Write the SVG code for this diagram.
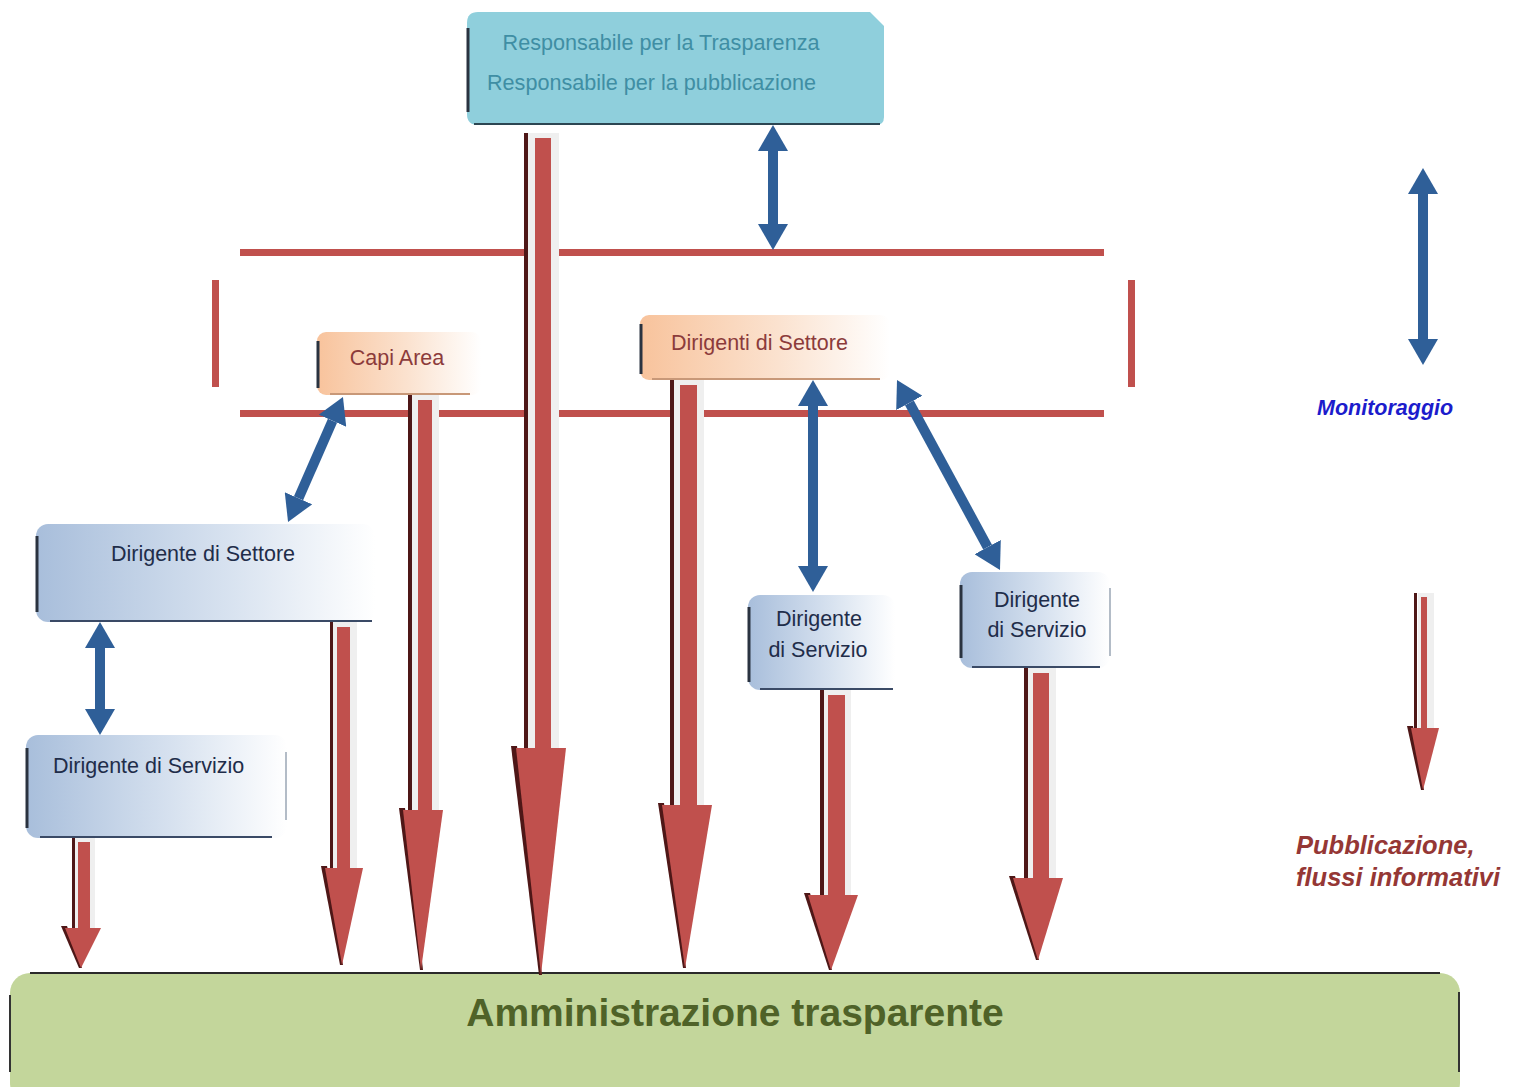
<svg xmlns="http://www.w3.org/2000/svg" width="1513" height="1087" viewBox="0 0 1513 1087">
<defs>
<style>
.txt{font-family:"Liberation Sans",Arial,sans-serif}
.blue{stroke:#2f5f98;stroke-width:10;fill:none;marker-start:url(#bh);marker-end:url(#bh)}
.frame{fill:#c0504d}
.halo{fill:#efefef}
.dark{fill:#4e1717}
.red{fill:#c0504d}
.edge{stroke:#2a3340;stroke-width:3;fill:none}
</style>
<marker id="bh" viewBox="0 -15 26 30" refX="0" refY="0" markerWidth="26" markerHeight="30" markerUnits="userSpaceOnUse" orient="auto-start-reverse">
<path d="M0,-15 L26,0 L0,15 Z" fill="#2f5f98"/>
</marker>
<linearGradient id="gOr" x1="0" y1="0" x2="1" y2="0">
<stop offset="0" stop-color="#f8c39c"/>
<stop offset="0.55" stop-color="#fbe2cf"/>
<stop offset="1" stop-color="#ffffff"/>
</linearGradient>
<linearGradient id="gBl" x1="0" y1="0" x2="1" y2="0">
<stop offset="0" stop-color="#a8bedb"/>
<stop offset="0.55" stop-color="#d6e1ef"/>
<stop offset="1" stop-color="#ffffff"/>
</linearGradient>
</defs>
<rect width="1513" height="1087" fill="#ffffff"/>

<!-- frame of red lines -->
<g id="frame">
<rect class="frame" x="240" y="249" width="864" height="7"/>
<rect class="frame" x="240" y="410" width="864" height="7"/>
<rect class="frame" x="212" y="280" width="7" height="107"/>
<rect class="frame" x="1128" y="280" width="7" height="107"/>
</g>

<!-- top node -->
<g id="node-responsabile">
<path d="M478,12 H870 L884,26 V117 Q884,125 876,125 H478 Q467,125 467,114 V23 Q467,12 478,12 Z" fill="#8fcfdc"/>
<path d="M468,28 V112" class="edge" stroke="#2c4652"/>
<path d="M474,124 H880" stroke="#2c4652" stroke-width="2"/>
<text class="txt" x="661" y="50" font-size="21.6" fill="#3f8ea4" text-anchor="middle">Responsabile per la Trasparenza</text>
<text class="txt" x="487" y="90" font-size="21.6" fill="#3f8ea4">Responsabile per la pubblicazione</text>
</g>

<!-- Capi Area -->
<g id="node-capi-area">
<rect x="317" y="332" width="164" height="63" rx="9" fill="url(#gOr)"/>
<path d="M318,341 V388" class="edge" stroke="#8a4a1a"/>
<path d="M330,394 H470" stroke="#c89878" stroke-width="2"/>
<text class="txt" x="397" y="365" font-size="21.5" fill="#8c3b3b" text-anchor="middle">Capi Area</text>
</g>

<!-- Dirigenti di Settore -->
<g id="node-dirigenti-settore">
<rect x="640" y="315" width="250" height="65" rx="9" fill="url(#gOr)"/>
<path d="M641,324 V374" class="edge" stroke="#8a4a1a"/>
<path d="M652,379 H880" stroke="#c89878" stroke-width="2"/>
<text class="txt" x="671" y="350" font-size="21.5" fill="#8c3b3b">Dirigenti di Settore</text>
</g>

<!-- Dirigente di Settore left -->
<g id="node-dirigente-settore">
<rect x="36" y="524" width="339" height="98" rx="12" fill="url(#gBl)"/>
<path d="M37,536 V612" class="edge"/>
<path d="M50,621 H372" stroke="#3a4a66" stroke-width="2"/>
<text class="txt" x="203" y="561" font-size="21.5" fill="#1f2d4a" text-anchor="middle">Dirigente di Settore</text>
</g>

<!-- Dirigente di Servizio left bottom -->
<g id="node-dirigente-servizio-1">
<rect x="26" y="735" width="261" height="103" rx="12" fill="url(#gBl)"/>
<path d="M27,748 V828" class="edge"/>
<path d="M40,837 H272" stroke="#3a4a66" stroke-width="2"/>
<path d="M286,752 V820" stroke="#9aa6b4" stroke-width="1.5"/>
<text class="txt" x="53" y="773" font-size="21.5" fill="#1f2d4a">Dirigente di Servizio</text>
</g>

<!-- Dirigente di Servizio mid -->
<g id="node-dirigente-servizio-2">
<rect x="748" y="595" width="147" height="95" rx="12" fill="url(#gBl)"/>
<path d="M749,607 V682" class="edge"/>
<path d="M760,689 H893" stroke="#3a4a66" stroke-width="2"/>
<text class="txt" x="819" y="626" font-size="21.5" fill="#1f2d4a" text-anchor="middle">Dirigente</text>
<text class="txt" x="818" y="657" font-size="21.5" fill="#1f2d4a" text-anchor="middle">di Servizio</text>
</g>

<!-- Dirigente di Servizio right -->
<g id="node-dirigente-servizio-3">
<rect x="960" y="572" width="150" height="96" rx="12" fill="url(#gBl)"/>
<path d="M961,585 V658" class="edge"/>
<path d="M972,667 H1100" stroke="#3a4a66" stroke-width="2"/>
<path d="M1110,588 V656" stroke="#9aa6b4" stroke-width="1.5"/>
<text class="txt" x="1037" y="607" font-size="21.5" fill="#1f2d4a" text-anchor="middle">Dirigente</text>
<text class="txt" x="1037" y="637" font-size="21.5" fill="#1f2d4a" text-anchor="middle">di Servizio</text>
</g>

<!-- Amministrazione trasparente -->
<g id="node-amministrazione">
<rect x="10" y="973" width="1450" height="130" rx="20" fill="#c3d69b"/>
<path d="M30,973 H1440" stroke="#2a2a2a" stroke-width="2"/>
<path d="M10,995 V1072" stroke="#333333" stroke-width="2"/>
<path d="M1459,992 V1072" stroke="#333333" stroke-width="2"/>
<text class="txt" x="735" y="1026" font-size="39" font-weight="bold" fill="#4f6228" text-anchor="middle">Amministrazione trasparente</text>
</g>

<!-- connectors -->
<g id="connectors">
<!-- red publication arrows: halo, dark shadow line, shaft, head -->
<g id="r-main">
<rect class="halo" x="527" y="133" width="32" height="618"/>
<rect class="dark" x="524" y="133" width="4" height="615"/>
<rect class="red" x="535" y="138" width="16" height="612"/>
<polygon class="dark" points="511,746 517,746 542,975 539,975"/>
<polygon class="red" points="516,748 566,748 541,975"/>
</g>
<g id="r-capi">
<rect class="halo" x="411" y="395" width="28" height="418"/>
<rect class="dark" x="408" y="395" width="4" height="415"/>
<rect class="red" x="418" y="400" width="14" height="412"/>
<polygon class="dark" points="399,808 405,808 423,970 420,970"/>
<polygon class="red" points="403,810 443,810 421,970"/>
</g>
<g id="r-dirsettore">
<rect class="halo" x="674" y="380" width="30" height="428"/>
<rect class="dark" x="670" y="380" width="4" height="425"/>
<rect class="red" x="680" y="385" width="17" height="422"/>
<polygon class="dark" points="658,803 664,803 686,968 683,968"/>
<polygon class="red" points="662,805 712,805 685,968"/>
</g>
<g id="r-settore-left">
<rect class="halo" x="333" y="622" width="24" height="249"/>
<rect class="dark" x="330" y="622" width="3" height="246"/>
<rect class="red" x="337" y="627" width="13" height="243"/>
<polygon class="dark" points="321,866 327,866 343,965 340,965"/>
<polygon class="red" points="325,868 363,868 342,965"/>
</g>
<g id="r-servizio-1">
<rect class="halo" x="75" y="838" width="20" height="93"/>
<rect class="dark" x="72" y="838" width="3" height="90"/>
<rect class="red" x="78" y="842" width="12" height="88"/>
<polygon class="dark" points="61,926 67,926 82,968 79,968"/>
<polygon class="red" points="65,928 101,928 81,968"/>
</g>
<g id="r-servizio-2">
<rect class="halo" x="823" y="690" width="28" height="208"/>
<rect class="dark" x="820" y="690" width="4" height="205"/>
<rect class="red" x="828" y="695" width="17" height="202"/>
<polygon class="dark" points="804,893 810,893 832,970 829,970"/>
<polygon class="red" points="808,895 858,895 831,970"/>
</g>
<g id="r-servizio-3">
<rect class="halo" x="1028" y="668" width="28" height="213"/>
<rect class="dark" x="1024" y="668" width="4" height="210"/>
<rect class="red" x="1033" y="673" width="16" height="207"/>
<polygon class="dark" points="1009,876 1015,876 1039,960 1036,960"/>
<polygon class="red" points="1013,878 1063,878 1038,960"/>
</g>
<g id="r-legend">
<rect class="halo" x="1418" y="593" width="16" height="138"/>
<rect class="dark" x="1414" y="593" width="3" height="135"/>
<rect class="red" x="1421" y="597" width="6" height="133"/>
<polygon class="dark" points="1407,726 1413,726 1424,790 1421,790"/>
<polygon class="red" points="1411,728 1439,728 1423,790"/>
</g>

<!-- blue monitoring arrows -->
<line class="blue" x1="773" y1="151" x2="773" y2="224"/>
<line class="blue" x1="332.5" y1="420.8" x2="298.5" y2="498.2"/>
<line class="blue" x1="813" y1="406" x2="813" y2="566"/>
<line class="blue" x1="909.4" y1="402.9" x2="987.6" y2="547.1"/>
<line class="blue" x1="100" y1="648" x2="100" y2="709"/>
<line class="blue" x1="1423" y1="194" x2="1423" y2="339"/>
</g>

<!-- legend texts -->
<text class="txt" x="1317" y="415" font-size="21.5" font-weight="bold" font-style="italic" fill="#1c1ccc">Monitoraggio</text>
<text class="txt" x="1296" y="854" font-size="25.5" font-weight="bold" font-style="italic" fill="#953735">Pubblicazione,</text>
<text class="txt" x="1296" y="886" font-size="25.5" font-weight="bold" font-style="italic" fill="#953735">flussi informativi</text>
</svg>
